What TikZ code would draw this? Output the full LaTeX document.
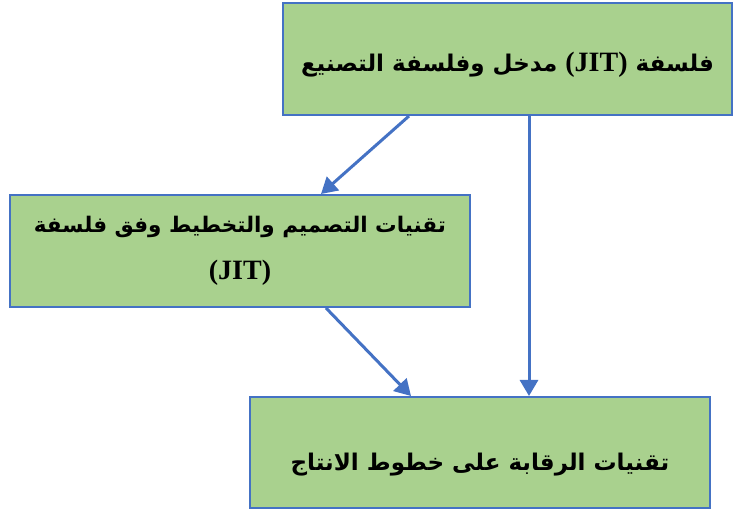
\documentclass[tikz,border=0pt]{standalone}
\usepackage{fontspec}
\newfontfamily\arabicfont[Script=Arabic]{DejaVu Sans}
\newfontfamily\jitfont{Liberation Serif}
\TeXXeTstate=1
\usetikzlibrary{arrows.meta}
\definecolor{boxgreen}{HTML}{A9D18E}
\definecolor{boxblue}{HTML}{4472C4}
\newcommand{\jit}{{\jitfont\bfseries\fontsize{28}{30}\selectfont(JIT)}}
\tikzset{
  stage/.style={draw=boxblue, fill=boxgreen, line width=2pt, align=center,
    inner sep=0pt, font=\arabicfont\bfseries\fontsize{23}{47}\selectfont},
  flow/.style={draw=boxblue, line width=3pt, -{Triangle[length=16pt,width=18pt]}}
}

\begin{document}
\begin{tikzpicture}[x=1pt,y=-1pt]
\useasboundingbox (0,0) rectangle (734,510);
% three stages
\node[stage, minimum width=449pt, minimum height=112pt] (philo) at (507.5,59)
  {\raisebox{-13pt}[0pt][0pt]{\beginR فلسفة \beginL\jit\endL{} مدخل وفلسفة التصنيع\endR}};
\node[stage, minimum width=460pt, minimum height=112pt,
  font=\arabicfont\bfseries\fontsize{21.5}{47}\selectfont] (design) at (240,251)
  {\beginR تقنيات التصميم والتخطيط وفق فلسفة\endR\\\jit};
\node[stage, minimum width=460pt, minimum height=111pt] (control) at (480,452.5)
  {\raisebox{-18pt}[0pt][0pt]{\beginR تقنيات الرقابة على خطوط الانتاج\endR}};
% arrows
\draw[flow] ([xshift=127pt]philo.south west) -- ([xshift=312pt]design.north west);
\draw[flow] ([xshift=247pt]philo.south west) -- ([xshift=280pt]control.north west);
\draw[flow] ([xshift=317pt]design.south west) -- ([xshift=162pt]control.north west);
\end{tikzpicture}
\end{document}
